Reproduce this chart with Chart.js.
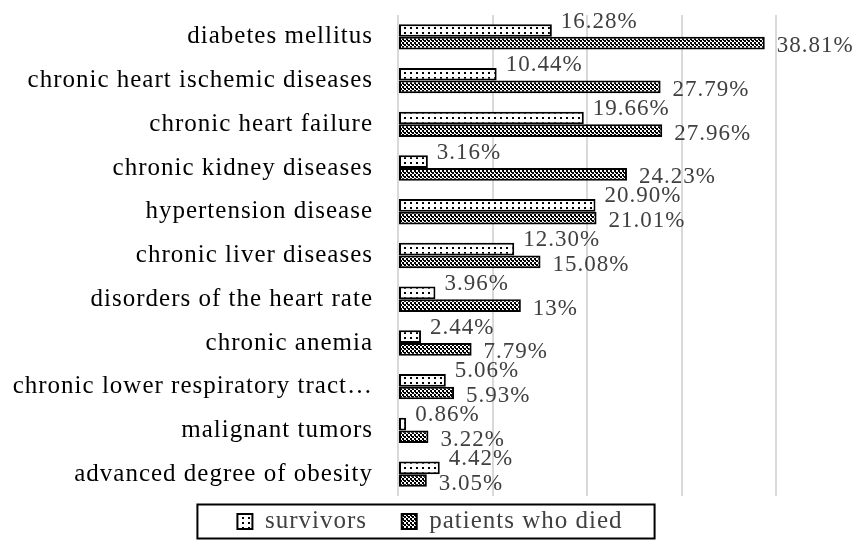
<!DOCTYPE html>
<html>
<head>
<meta charset="utf-8">
<script src="https://cdn.jsdelivr.net/npm/chart.js@4"></script>
<style>
  html, body { margin: 0; padding: 0; background: #ffffff; }
  canvas { display: block; }
</style>
</head>
<body>
<canvas id="chart" width="860" height="548"></canvas>
<script>
// ---- data ----
const categories = [
  'diabetes mellitus',
  'chronic heart ischemic diseases',
  'chronic heart failure',
  'chronic kidney diseases',
  'hypertension disease',
  'chronic liver diseases',
  'disorders of the heart rate',
  'chronic anemia',
  'chronic lower respiratory tract\u2026',
  'malignant tumors',
  'advanced degree of obesity'
];
const survivors = [16.28, 10.44, 19.66, 3.16, 20.90, 12.30, 3.96, 2.44, 5.06, 0.86, 4.42];
const died = [38.81, 27.79, 27.96, 24.23, 21.01, 15.08, 13, 7.79, 5.93, 3.22, 3.05];
const seriesNames = ['survivors', 'patients who died'];

const SERIF = '"Liberation Serif", "Times New Roman", serif';
const fmt = v => (Number.isInteger(v) ? v : v.toFixed(2)) + '%';

/* -------------------------------------------------------------------------- */
/* Fill patterns                                                              */
/* -------------------------------------------------------------------------- */
function dotPattern(ctx) {
  const c = document.createElement('canvas');
  c.width = 6; c.height = 5;
  const g = c.getContext('2d');
  g.fillStyle = '#ffffff';
  g.fillRect(0, 0, 6, 5);
  g.fillStyle = '#000000';
  g.fillRect(2, 2, 2, 2);
  return ctx.createPattern(c, 'repeat');
}

function checkPattern(ctx) {
  const c = document.createElement('canvas');
  c.width = 4; c.height = 4;
  const g = c.getContext('2d');
  g.fillStyle = '#ffffff';
  g.fillRect(0, 0, 4, 4);
  g.fillStyle = '#000000';
  g.fillRect(0, 0, 2, 2);
  g.fillRect(2, 2, 2, 2);
  g.fillRect(3, 0, 1, 1);
  return ctx.createPattern(c, 'repeat');
}

/* -------------------------------------------------------------------------- */
/* Plugins                                                                    */
/* -------------------------------------------------------------------------- */
const spacing = {
  id: 'spacing',
  beforeUpdate(chart) { chart.ctx.letterSpacing = '1px'; },
  beforeDraw(chart) { chart.ctx.letterSpacing = '1px'; }
};

const valueLabels = {
  id: 'valueLabels',
  afterDatasetsDraw(chart) {
    const ctx = chart.ctx;
    ctx.save();
    ctx.letterSpacing = '1px';
    ctx.font = '23px ' + SERIF;
    ctx.fillStyle = '#404040';
    ctx.textAlign = 'left';
    ctx.textBaseline = 'middle';
    chart.data.datasets.forEach((ds, i) => {
      chart.getDatasetMeta(i).data.forEach((bar, j) => {
        const dx = i === 0 ? 9 : 12;
        const dy = i === 0 ? -9 : 3;
        ctx.fillText(fmt(ds.data[j]), bar.x + dx, bar.y + dy);
      });
    });
    ctx.restore();
  }
};

const legendFrame = {
  id: 'legendFrame',
  afterDraw(chart) {
    const boxes = chart.legend.legendHitBoxes;
    if (!boxes || !boxes.length) return;
    const first = boxes[0], last = boxes[boxes.length - 1];
    const cy = first.top + first.height / 2;
    const ctx = chart.ctx;
    ctx.save();
    ctx.strokeStyle = '#000000';
    ctx.lineWidth = 2;
    ctx.strokeRect(first.left - 40, cy - 17, (last.left + last.width + 32) - (first.left - 40), 34);
    ctx.restore();
  }
};

/* -------------------------------------------------------------------------- */
/* Chart                                                                      */
/* -------------------------------------------------------------------------- */
const ctx = document.getElementById('chart').getContext('2d');

new Chart(ctx, {
  type: 'bar',
  data: {
    labels: categories,
    datasets: [
      {
        label: seriesNames[0],
        data: survivors,
        backgroundColor: dotPattern(ctx),
        borderColor: '#000000',
        borderWidth: 2,
        borderSkipped: false
      },
      {
        label: seriesNames[1],
        data: died,
        backgroundColor: checkPattern(ctx),
        borderColor: '#000000',
        borderWidth: 2,
        borderSkipped: false
      }
    ]
  },
  options: {
    indexAxis: 'y',
    responsive: false,
    animation: false,
    devicePixelRatio: 1,
    categoryPercentage: 0.58,
    barPercentage: 1,
    layout: { padding: { top: 15, right: 0, bottom: 4, left: 0 } },
    plugins: {
      tooltip: { enabled: false },
      legend: {
        position: 'bottom',
        labels: {
          boxWidth: 15,
          boxHeight: 15,
          padding: 13,
          color: '#404040',
          font: { family: SERIF, size: 25 },
          generateLabels(chart) {
            const items = Chart.defaults.plugins.legend.labels.generateLabels(chart);
            items[0].text = items[0].text + '   ';
            items.forEach(it => { it.lineWidth = 2; it.strokeStyle = '#000000'; });
            return items;
          }
        }
      }
    },
    scales: {
      x: {
        min: 0,
        max: 40,
        ticks: { display: false, stepSize: 10 },
        grid: { color: '#d9d9d9', lineWidth: 2, drawTicks: false },
        border: { display: false }
      },
      y: {
        afterFit(scale) {
          scale.width = 398;
          scale.paddingTop = 0;
          scale.paddingBottom = 0;
        },
        ticks: {
          padding: 17,
          color: '#000000',
          font: { family: SERIF, size: 25 }
        },
        grid: { display: false },
        border: { display: false }
      },
      // empty right-hand strip that leaves room for the value labels
      yRight: {
        type: 'category',
        position: 'right',
        afterFit(scale) {
          scale.width = 84;
          scale.paddingTop = 0;
          scale.paddingBottom = 0;
        },
        ticks: { display: false },
        grid: { display: false },
        border: { display: false }
      }
    }
  },
  plugins: [spacing, valueLabels, legendFrame]
});
</script>
</body>
</html>
